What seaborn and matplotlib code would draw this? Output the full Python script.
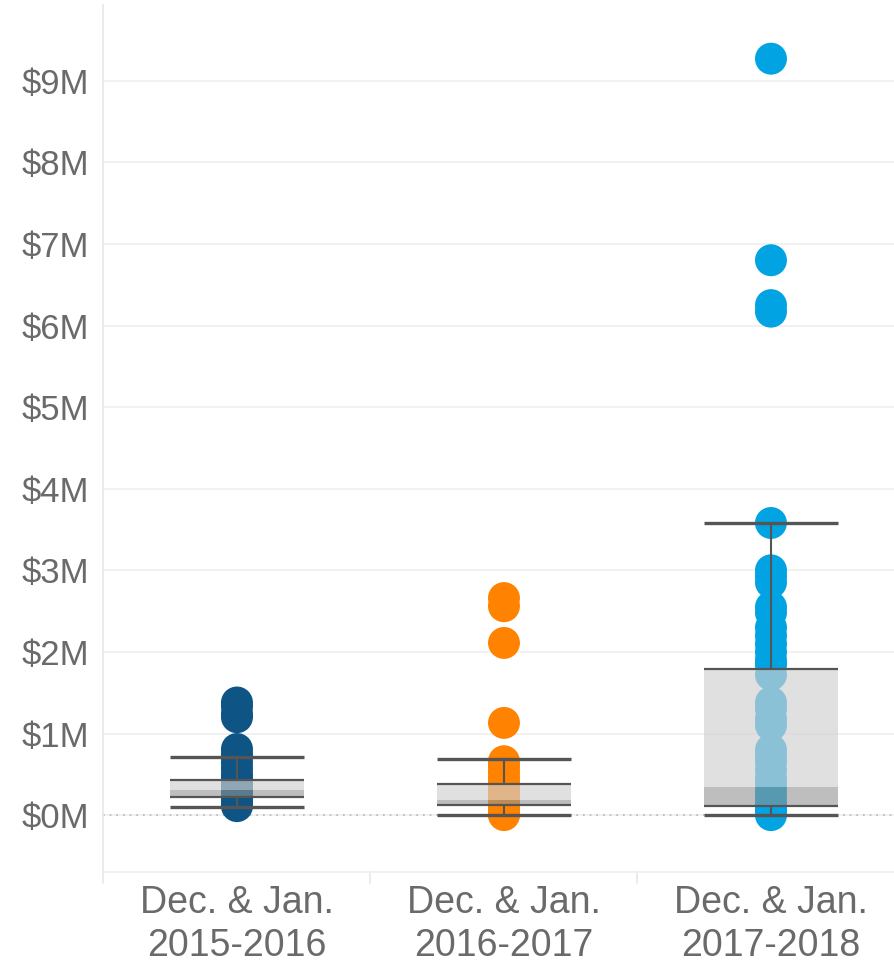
import numpy as np
import pandas as pd
import matplotlib
matplotlib.use("Agg")
import matplotlib.pyplot as plt
import seaborn as sns

sns.set_theme(style="white")
plt.rcParams['font.family'] = ['Liberation Sans', 'DejaVu Sans']

# Data (values in $M)
seasons = ["Dec. & Jan.\n2015-2016", "Dec. & Jan.\n2016-2017", "Dec. & Jan.\n2017-2018"]
vals_2015 = [1.38, 1.33, 1.24, 1.20, 0.81, 0.74, 0.71, 0.64, 0.57, 0.50, 0.45, 0.40,
             0.36, 0.32, 0.29, 0.26, 0.24, 0.22, 0.20, 0.17, 0.14, 0.11]
vals_2016 = [2.66, 2.56, 2.11, 1.13, 0.66, 0.60, 0.53, 0.46, 0.40, 0.35, 0.30, 0.25,
             0.21, 0.18, 0.15, 0.13, 0.09, 0.06, 0.03, 0.01, 0.0]
vals_2017 = [9.27, 6.80, 6.25, 6.17, 3.58, 3.00, 2.93, 2.85, 2.55, 2.48, 2.30, 2.20,
             2.10, 2.00, 1.90, 1.84, 1.72, 1.38, 1.30, 1.18, 1.10, 0.80, 0.72, 0.65,
             0.55, 0.45, 0.38, 0.30, 0.22, 0.15, 0.10, 0.05, 0.0]
colors = ["#0e5484", "#ff8200", "#02a3e2"]

# Box plot stats per season ($M)
q1 = [0.22, 0.13, 0.11]
median = [0.31, 0.18, 0.34]
q3 = [0.43, 0.38, 1.79]
whisker_lo = [0.10, 0.0, 0.0]
whisker_hi = [0.71, 0.69, 3.58]

df = pd.DataFrame({
    "season": [seasons[0]] * len(vals_2015) + [seasons[1]] * len(vals_2016) + [seasons[2]] * len(vals_2017),
    "value": vals_2015 + vals_2016 + vals_2017,
})

fig = plt.figure(figsize=(8.95, 9.67), dpi=100)
ax = fig.add_axes([0.1156, 0.098, 0.895, 0.897])

sns.stripplot(data=df, x="season", y="value", hue="season", palette=colors,
              order=seasons, jitter=False, size=23, linewidth=0, legend=False,
              ax=ax, zorder=2)

pos = np.arange(len(seasons))
w = 0.5
# upper box (median to Q3) and lower box (Q1 to median)
ax.bar(pos, np.array(q3) - np.array(median), bottom=median, width=w,
       color="#d1d1d1", alpha=0.66, linewidth=0, zorder=3)
ax.bar(pos, np.array(median) - np.array(q1), bottom=q1, width=w,
       color="#939393", alpha=0.6, linewidth=0, zorder=3)
line_c = "#555555"
ax.hlines(q1, pos - w / 2, pos + w / 2, color=line_c, lw=1.6, zorder=4)
ax.hlines(q3, pos - w / 2, pos + w / 2, color=line_c, lw=1.6, zorder=4)
ax.hlines(whisker_lo, pos - w / 2, pos + w / 2, color=line_c, lw=2.4, zorder=4)
ax.hlines(whisker_hi, pos - w / 2, pos + w / 2, color=line_c, lw=2.4, zorder=4)
ax.vlines(pos, q3, whisker_hi, color=line_c, lw=1.5, zorder=4)
ax.vlines(pos, whisker_lo, q1, color=line_c, lw=1.5, zorder=4)

ax.axhline(0, color="#b5b5b5", lw=1.2, ls=(0, (1, 3)), zorder=1)

ax.set_xlim(-0.5, 2.5)
ax.set_ylim(-0.7, 9.93)
ax.set_yticks(range(0, 10))
ax.set_yticklabels([f"${i}M" for i in range(0, 10)])
ax.yaxis.grid(True, color="#efefef", lw=1.2, zorder=0)
ax.set_axisbelow(True)
ax.set_xlabel("")
ax.set_ylabel("")
ax.tick_params(axis="y", length=0, pad=10, labelsize=25, labelcolor="#6a6a6a")
ax.tick_params(axis="x", length=0, pad=9, labelsize=27, labelcolor="#6a6a6a")
for lab in ax.get_xticklabels():
    lab.set_linespacing(1.25)

for s in ["top", "right"]:
    ax.spines[s].set_visible(False)
ax.spines["left"].set_color("#e8e8e8")
ax.spines["bottom"].set_color("#eeeeee")
ax.spines["left"].set_linewidth(1.2)

# category separators below the axis
for x in [-0.5, 0.5, 1.5]:
    ax.plot([x, x], [0, -0.012], transform=ax.get_xaxis_transform(), color="#e8e8e8",
            lw=1.2, clip_on=False)

fig.savefig("out.png", dpi=100)
